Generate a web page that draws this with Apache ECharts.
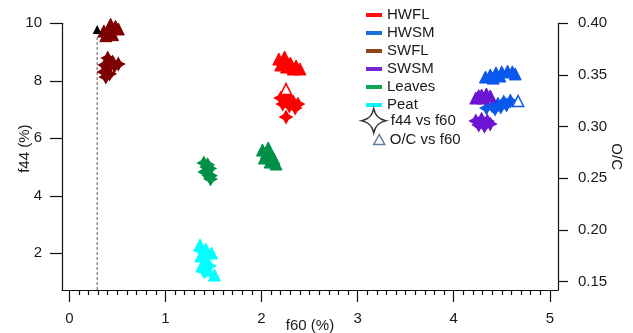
<!DOCTYPE html>
<html>
<head>
<meta charset="utf-8">
<script src="https://cdn.jsdelivr.net/npm/echarts@6/dist/echarts.min.js"></script>
<style>
html,body{margin:0;padding:0;background:#fff;}
#chart{width:633px;height:333px;}
</style>
</head>
<body>
<div id="chart"></div>
<script>
// ---- tick labels ----
const f60Ticks = [0, 1, 2, 3, 4, 5];
const f44Ticks = [2, 4, 6, 8, 10];
const ocTicks = [0.15, 0.20, 0.25, 0.30, 0.35, 0.40];
const groups = ['HWFL', 'HWSM', 'SWFL', 'SWSM', 'Leaves', 'Peat'];

// ---- f44 vs f60 (stars) : [f60, f44] ----
const hwflF44 = [[2.20,7.40],[2.26,7.47],[2.27,7.33],[2.33,7.26],[2.38,7.19],[2.22,7.19],[2.29,7.12],[2.35,7.05],[2.255,6.74]];
const hwsmF44 = [[4.34,7.05],[4.40,7.12],[4.46,7.19],[4.52,7.26],[4.59,7.30],[4.43,7.02],[4.49,7.09],[4.55,7.16]];
const swflF44 = [[0.40,8.79],[0.45,8.65],[0.37,8.55],[0.51,8.58],[0.40,8.45],[0.36,8.31],[0.42,8.24],[0.38,8.13],[0.47,8.51]];
const swsmF44 = [[4.23,6.60],[4.29,6.66],[4.35,6.60],[4.26,6.46],[4.32,6.42],[4.38,6.50]];
const leavesF44 = [[1.40,5.14],[1.43,5.00],[1.43,4.86],[1.45,4.72],[1.47,4.58],[1.41,4.83],[1.46,4.95],[1.44,5.08],[1.47,4.70]];
const peatF44 = [[1.36,2.11],[1.41,1.84],[1.46,1.56],[1.41,1.35]];

// ---- O/C vs f60 (triangles) : [f60, O/C] ----
const hwflOC = [[2.18,0.3654],[2.24,0.3674],[2.23,0.3635],[2.30,0.3615],[2.36,0.3587],[2.40,0.3558],[2.20,0.3597],[2.26,0.3577],[2.33,0.3558]];
const hwflOCOpen = [[2.255,0.3364]];
const hwsmOC = [[4.33,0.348],[4.38,0.350],[4.44,0.352],[4.50,0.353],[4.56,0.3537],[4.61,0.353],[4.64,0.351],[4.41,0.347],[4.48,0.349]];
const hwsmOCOpen = [[4.67,0.3248]];
const swflOC = [[0.38,0.4013],[0.43,0.399],[0.48,0.397],[0.51,0.3945],[0.36,0.3925],[0.40,0.3905],[0.45,0.389],[0.38,0.388],[0.42,0.395]];
const swsmOC = [[4.23,0.3277],[4.29,0.3306],[4.34,0.3316],[4.38,0.3297],[4.31,0.3277],[4.26,0.3300]];
const leavesOC = [[2.01,0.2774],[2.05,0.2745],[2.09,0.2716],[2.13,0.2687],[2.03,0.2697],[2.09,0.2658],[2.15,0.2639],[2.07,0.2794]];
const peatOC = [[1.36,0.1855],[1.42,0.1816],[1.48,0.1778],[1.37,0.1749],[1.43,0.1710],[1.38,0.1652],[1.44,0.1613],[1.51,0.1565]];

// reference marker and dashed guide line
const refOC = [[0.29, 0.394]];
const refLine = [[0.29, 0.142], [0.29, 0.389]];

// minor tick positions on the f60 axis (every 0.1)
const f60Minor = [];
for (let i = 1; i <= 50; i++) { if (i % 10 !== 0) f60Minor.push(+(i / 10).toFixed(1)); }

const dataColors = {HWFL:'#ff0000', HWSM:'#0a58ec', SWFL:'#7e0000', SWSM:'#6d14d2', Leaves:'#009048', Peat:'#00ffff'};
const legendColors = {HWFL:'#ff1010', HWSM:'#1472d6', SWFL:'#8e4418', SWSM:'#7528d0', Leaves:'#10a550', Peat:'#10f4f4'};

const starPath = 'path://M0,-10 L3.6,-3.6 L10,0 L3.6,3.6 L0,10 L-3.6,3.6 L-10,0 L-3.6,-3.6 Z';
const starLegend = 'path://M0,-10 C1.3,-4 4,-1.3 10,0 C4,1.3 1.3,4 0,10 C-1.3,4 -4,1.3 -10,0 C-4,-1.3 -1.3,-4 0,-10 Z';
const barIcon = 'path://M0,0 M0,7 L16,7 L16,11 L0,11 Z M16,18';

const FONT = 'Liberation Sans, Arial, sans-serif';
const TXT = '#1a1a1a';
const X_MIN = -0.076, X_MAX = 5.085;

const f44Sets = {HWFL:hwflF44, HWSM:hwsmF44, SWFL:swflF44, SWSM:swsmF44, Leaves:leavesF44, Peat:peatF44};
const ocSets = {HWFL:hwflOC, HWSM:hwsmOC, SWFL:swflOC, SWSM:swsmOC, Leaves:leavesOC, Peat:peatOC};

const series = [];
series.push({type:'line', name:'ref', xAxisIndex:0, yAxisIndex:1, data:refLine, symbol:'none',
  lineStyle:{color:'#555', width:1, type:[3,2]}, silent:true, z:1});
groups.forEach(g => {
  series.push({type:'scatter', name:g, xAxisIndex:0, yAxisIndex:1, data:ocSets[g], symbol:'triangle', symbolSize:12,
    itemStyle:{color:dataColors[g], borderColor:dataColors[g], borderWidth:1, opacity:1}, z:3});
  series.push({type:'scatter', name:g, xAxisIndex:0, yAxisIndex:0, data:f44Sets[g], symbol:starPath, symbolSize:15,
    itemStyle:{color:dataColors[g], opacity:1}, z:3});
});
series.push({type:'scatter', name:'HWFL', xAxisIndex:0, yAxisIndex:1, data:hwflOCOpen, symbol:'triangle', symbolSize:11,
  itemStyle:{color:'#fff', borderColor:dataColors.HWFL, borderWidth:1.5, opacity:1}, z:4});
series.push({type:'scatter', name:'HWSM', xAxisIndex:0, yAxisIndex:1, data:hwsmOCOpen, symbol:'triangle', symbolSize:11,
  itemStyle:{color:'#fff', borderColor:dataColors.HWSM, borderWidth:1.5, opacity:1}, z:4});
series.push({type:'scatter', name:'ref', xAxisIndex:0, yAxisIndex:1, data:refOC, symbol:'triangle', symbolSize:9,
  itemStyle:{color:'#000', opacity:1}, z:4});
series.push({type:'scatter', name:'f44 vs f60', data:[], xAxisIndex:0, yAxisIndex:0, symbol:starLegend, itemStyle:{color:'#000'}});
series.push({type:'scatter', name:'O/C vs f60', data:[], xAxisIndex:0, yAxisIndex:1, symbol:'triangle', itemStyle:{color:'#3a5a8a'}});

const axisLineStyle = {color:'#111', width:1.2};
const labelStyle = {fontFamily:FONT, fontSize:15, color:TXT};

const option = {
  animation:false,
  backgroundColor:'#fff',
  grid:{left:62, right:75, top:23.3, bottom:43, containLabel:false, outerBoundsMode:'none'},
  textStyle:{fontFamily:FONT},
  legend:[
    {data:groups.map(g => ({name:g, icon:barIcon, itemStyle:{color:legendColors[g], borderWidth:0}})),
     orient:'vertical', left:366, top:6, itemWidth:16, itemHeight:18, itemGap:0, padding:0, selectedMode:false,
     textStyle:{fontFamily:FONT, fontSize:15, color:TXT, padding:[0,0,0,0]}},
    {data:[{name:'f44 vs f60', icon:starLegend, itemStyle:{color:'#fff', borderColor:'#000', borderWidth:1.5}}],
     orient:'vertical', left:361, top:108, itemWidth:24, itemHeight:26, padding:0, selectedMode:false,
     textStyle:{fontFamily:FONT, fontSize:15, color:TXT}},
    {data:[{name:'O/C vs f60', icon:'triangle', itemStyle:{color:'#fff', borderColor:'#3a5a8a', borderWidth:1.5}}],
     orient:'vertical', left:373, top:132, itemWidth:11, itemHeight:10, padding:0, selectedMode:false,
     textStyle:{fontFamily:FONT, fontSize:15, color:TXT}}
  ],
  xAxis:[
    {type:'value', min:X_MIN, max:X_MAX, position:'bottom', axisLine:{show:true, onZero:false, lineStyle:axisLineStyle},
     axisTick:{show:false}, axisLabel:{show:false}, splitLine:{show:false}},
    {type:'value', min:X_MIN, max:X_MAX, position:'bottom', name:'f60 (%)', nameLocation:'middle', nameGap:28,
     nameMoveOverlap:false,
     nameTextStyle:{fontFamily:FONT, fontSize:15, color:TXT},
     axisLine:{show:false, onZero:false},
     axisTick:{show:true, length:12, customValues:f60Ticks, lineStyle:axisLineStyle},
     axisLabel:{show:true, margin:21, customValues:f60Ticks, ...labelStyle},
     splitLine:{show:false}},
    {type:'value', min:X_MIN, max:X_MAX, position:'bottom',
     axisLine:{show:false, onZero:false},
     axisTick:{show:true, length:5, customValues:f60Minor, lineStyle:axisLineStyle},
     axisLabel:{show:false}, splitLine:{show:false}}
  ],
  yAxis:[
    {type:'value', min:0.723, max:10, position:'left', name:'f44 (%)', nameLocation:'middle', nameGap:30,
     nameMoveOverlap:false,
     nameTextStyle:{fontFamily:FONT, fontSize:15, color:TXT, padding:[0,0,0,16]},
     axisLine:{show:true, onZero:false, lineStyle:axisLineStyle},
     axisTick:{show:true, length:12, customValues:f44Ticks, lineStyle:axisLineStyle},
     axisLabel:{show:true, margin:20, customValues:f44Ticks, ...labelStyle},
     splitLine:{show:false}},
    {type:'value', min:0.142, max:0.40, position:'right', name:'O/C', nameLocation:'middle', nameGap:51, nameRotate:-90,
     nameMoveOverlap:false,
     nameTextStyle:{fontFamily:FONT, fontSize:15, color:TXT},
     axisLine:{show:true, onZero:false, lineStyle:axisLineStyle},
     axisTick:{show:true, length:10, customValues:ocTicks, lineStyle:axisLineStyle},
     axisLabel:{show:true, margin:20, customValues:ocTicks, formatter:v => v.toFixed(2), ...labelStyle},
     splitLine:{show:false}}
  ],
  series:series
};

const chart = echarts.init(document.getElementById('chart'), null, {renderer:'canvas'});
chart.setOption(option);
</script>
</body>
</html>
